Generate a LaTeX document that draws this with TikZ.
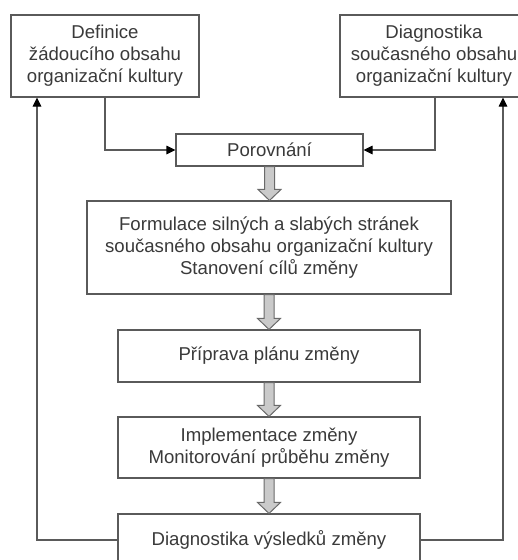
\documentclass[tikz,border=0pt]{standalone}
\usepackage{fontspec}
\setmainfont{Liberation Sans}
\usetikzlibrary{arrows.meta,calc}
\definecolor{linegray}{HTML}{5A5A5A}
\definecolor{txtgray}{HTML}{3A3A3A}
\definecolor{arrowfill}{HTML}{CACACA}
\definecolor{arrowline}{HTML}{6A6A6A}
\tikzset{
  boxnode/.style={draw=linegray, line width=1.1pt, fill=white, text=txtgray,
    align=center, inner sep=0pt, font=\fontsize{18.6}{22}\selectfont},
  conn/.style={draw=linegray, line width=1.1pt,
    -{Triangle[length=9pt,width=8.5pt,color=black]}},
  hollowstyle/.style={draw=arrowline, fill=arrowfill, line width=1pt, line join=miter}
}
\newcommand\hollowarrow[2]{%
  \draw[hollowstyle] let \p1=(#1.south), \p2=(#2.north) in
    (\x1-5pt,\y1) -- (\x1-5pt,\y2+11pt) -- (\x1-11.5pt,\y2+11pt) -- (\x1,\y2)
    -- (\x1+11.5pt,\y2+11pt) -- (\x1+5pt,\y2+11pt) -- (\x1+5pt,\y1) -- cycle;}
\begin{document}
\begin{tikzpicture}[x=1pt,y=-1pt]
\useasboundingbox (0,0) rectangle (518,560);
\begin{scope}
\clip (0,0) rectangle (518,560);
\node[boxnode, minimum width=188pt, minimum height=82pt] (d1) at (105,56)
  {Definice\\ žádoucího obsahu\\ organizační kultury};
\node[boxnode, minimum width=188pt, minimum height=82pt] (d2) at (434,56)
  {Diagnostika\\ současného obsahu\\ organizační kultury};
\node[boxnode, minimum width=187pt, minimum height=32pt] (p) at (269.5,150)
  {Porovnání};
\node[boxnode, minimum width=364pt, minimum height=93pt] (f) at (269,247.5)
  {Formulace silných a slabých stránek\\ současného obsahu organizační kultury\\ Stanovení cílů změny};
\node[boxnode, minimum width=302pt, minimum height=52pt] (pp) at (269,356)
  {Příprava plánu změny};
\node[boxnode, minimum width=302pt, minimum height=61pt] (im) at (269,447.5)
  {Implementace změny\\ Monitorování průběhu změny};
\node[boxnode, minimum width=302pt, minimum height=52pt] (dv) at (269,540)
  {Diagnostika výsledků změny};

\hollowarrow{p}{f}
\hollowarrow{f}{pp}
\hollowarrow{pp}{im}
\hollowarrow{im}{dv}

\draw[conn] (d1.south) |- (p.west);
\draw[conn] ([xshift=1pt]d2.south) |- (p.east);
\draw[conn] (dv.west) -| ([xshift=-68pt]d1.south);
\draw[conn] (dv.east) -| ([xshift=69pt]d2.south);
\end{scope}
\end{tikzpicture}
\end{document}
